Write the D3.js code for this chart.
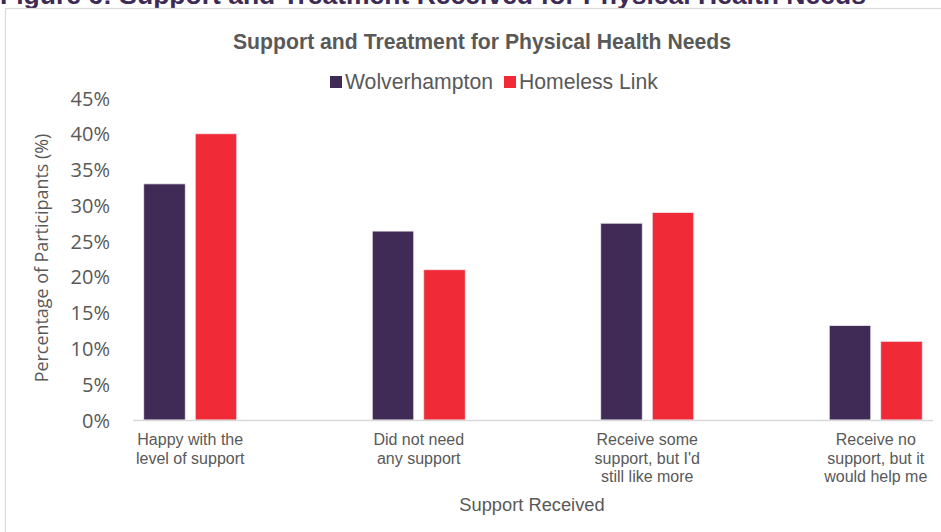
<!DOCTYPE html>
<html>
<head>
<meta charset="utf-8">
<script src="https://cdn.jsdelivr.net/npm/d3@7"></script>
<style>
  html, body { margin: 0; padding: 0; background: #fff; }
  svg { display: block; }
</style>
</head>
<body>
<svg id="chart" width="941" height="532"></svg>
<script>
// Support categories and their wrapped label lines
const categories = [
  "Happy with the level of support",
  "Did not need any support",
  "Receive some support, but I'd still like more",
  "Receive no support, but it would help me"
];
const categoryLines = [
  ["Happy with the", "level of support"],
  ["Did not need", "any support"],
  ["Receive some", "support, but I'd", "still like more"],
  ["Receive no", "support, but it", "would help me"]
];
const seriesNames = ["Wolverhampton", "Homeless Link"];
// Percentage of participants in each category
const wolverhampton = [33, 26.4, 27.5, 13.2];
const homelessLink = [40, 21, 29, 11];
const yTicks = [0, 5, 10, 15, 20, 25, 30, 35, 40, 45];

const colors = { "Wolverhampton": "#402a56", "Homeless Link": "#f12a37" };
const textGray = "#595959";

const svg = d3.select("#chart");

// Page heading above the chart frame
svg.append("text")
  .attr("x", 0).attr("y", 4)
  .attr("font-family", "Liberation Sans, Arial, sans-serif")
  .attr("font-weight", "bold")
  .attr("font-size", 26.5)
  .attr("fill", "#3d2a55")
  .text("Figure 6: Support and Treatment Received for Physical Health Needs");

// Chart frame
svg.append("rect")
  .attr("x", 5.5).attr("y", 8.5)
  .attr("width", 945).attr("height", 540)
  .attr("fill", "#fff")
  .attr("stroke", "#d9d9d9").attr("stroke-width", 1.2);

// Chart title
svg.append("text")
  .attr("x", 482).attr("y", 49)
  .attr("text-anchor", "middle")
  .attr("font-family", "Liberation Sans, Arial, sans-serif")
  .attr("font-weight", "bold")
  .attr("font-size", 21.2)
  .attr("fill", textGray)
  .text("Support and Treatment for Physical Health Needs");

// Legend
const legendItems = [
  { name: seriesNames[0], x: 330 },
  { name: seriesNames[1], x: 504 }
];
const legend = svg.append("g");
legendItems.forEach(d => {
  legend.append("rect")
    .attr("x", d.x).attr("y", 76)
    .attr("width", 12).attr("height", 12)
    .attr("fill", colors[d.name]);
  legend.append("text")
    .attr("x", d.x + 15).attr("y", 89)
    .attr("font-family", "Liberation Sans, Arial, sans-serif")
    .attr("font-size", 21.2)
    .attr("fill", textGray)
    .text(d.name);
});

// Scales
const y = d3.scaleLinear().domain([0, 45]).range([420, 98]);
const x0 = d3.scaleBand().domain(categories).range([133, 933])
  .paddingInner(0.593).paddingOuter(0.047);
const x1 = d3.scaleBand().domain(seriesNames).range([0, x0.bandwidth()])
  .paddingInner(0.194);

// Y axis (labels only)
const yAxis = svg.append("g")
  .attr("transform", "translate(110,0)")
  .call(d3.axisLeft(y).tickValues(yTicks).tickSize(0).tickPadding(0)
    .tickFormat(d => d + "%"));
yAxis.select(".domain").remove();
yAxis.selectAll("text")
  .attr("font-family", "Open Sans, sans-serif")
  .attr("font-size", 20)
  .attr("fill", textGray)
  .attr("dy", "0.35em");

// Y axis title
svg.append("text")
  .attr("transform", "translate(48,258) rotate(-90)")
  .attr("text-anchor", "middle")
  .attr("font-family", "Open Sans, sans-serif")
  .attr("font-size", 17.9)
  .attr("fill", textGray)
  .text("Percentage of Participants (%)");

// Bars
const rows = categories.map((c, i) => ({
  category: c,
  values: [
    { series: seriesNames[0], value: wolverhampton[i] },
    { series: seriesNames[1], value: homelessLink[i] }
  ]
}));
const groups = svg.append("g").selectAll("g")
  .data(rows).join("g")
  .attr("transform", d => `translate(${x0(d.category)},0)`);
groups.selectAll("rect")
  .data(d => d.values).join("rect")
  .attr("x", d => x1(d.series))
  .attr("y", d => y(d.value))
  .attr("width", x1.bandwidth())
  .attr("height", d => y(0) - y(d.value))
  .attr("fill", d => colors[d.series])
  .attr("stroke", "#ece8ef").attr("stroke-width", 0.8);

// Category axis line
svg.append("line")
  .attr("x1", 133).attr("x2", 933)
  .attr("y1", 420.5).attr("y2", 420.5)
  .attr("stroke", "#d9d9d9").attr("stroke-width", 1.5);

// Category labels
const catLabels = svg.append("g").selectAll("text")
  .data(categories).join("text")
  .attr("x", d => x0(d) + x0.bandwidth() / 2)
  .attr("y", 445)
  .attr("text-anchor", "middle")
  .attr("font-family", "Liberation Sans, Arial, sans-serif")
  .attr("font-size", 16)
  .attr("fill", textGray);
catLabels.each(function(d, i) {
  d3.select(this).selectAll("tspan")
    .data(categoryLines[i]).join("tspan")
    .attr("x", x0(d) + x0.bandwidth() / 2)
    .attr("dy", (l, j) => j === 0 ? 0 : 18.5)
    .text(l => l);
});

// X axis title
svg.append("text")
  .attr("x", 532).attr("y", 511)
  .attr("text-anchor", "middle")
  .attr("font-family", "Liberation Sans, Arial, sans-serif")
  .attr("font-size", 18.3)
  .attr("fill", textGray)
  .text("Support Received");
</script>
</body>
</html>
